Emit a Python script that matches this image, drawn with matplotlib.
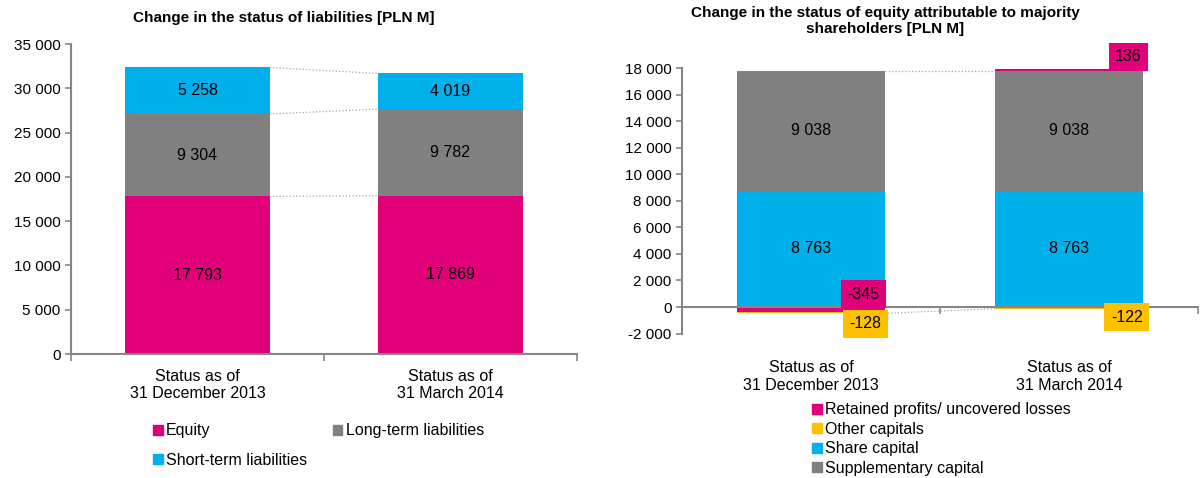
import numpy as np
import matplotlib.pyplot as plt
from matplotlib.ticker import FuncFormatter
from matplotlib.patches import Patch

plt.rcParams['font.family'] = ['Liberation Sans', 'DejaVu Sans']

# Data
categories = ["Status as of\n31 December 2013", "Status as of\n31 March 2014"]

equity = [17793, 17869]
long_term = [9304, 9782]
short_term = [5258, 4019]

share_capital = [8763, 8763]
supplementary = [9038, 9038]
retained = [-345, 136]
other_caps = [-128, -122]

MAGENTA = '#E2007A'
CYAN = '#00B0EB'
GRAY = '#808080'
YELLOW = '#FFC000'
SPINE = '#868686'

W, H = 1200, 478
fig = plt.figure(figsize=(W / 100, H / 100), dpi=100)


def px_axes(x0, x1, ytop, ybot):
    return fig.add_axes([x0 / W, 1 - ybot / H, (x1 - x0) / W, (ybot - ytop) / H])


def space_fmt(v, pos):
    return f"{int(round(v)):,}".replace(",", " ")


def fmt_num(v):
    return f"{int(round(v)):,}".replace(",", " ")


def style_axes(ax):
    for s in ['top', 'right']:
        ax.spines[s].set_visible(False)
    for s in ['left', 'bottom']:
        ax.spines[s].set_color(SPINE)
        ax.spines[s].set_linewidth(1.5)
    ax.yaxis.set_major_formatter(FuncFormatter(space_fmt))
    ax.tick_params(axis='y', colors=SPINE, labelcolor='black', labelsize=11,
                   length=4, width=1.2)
    ax.set_xlim(-0.5, 1.5)
    ax.set_xticks([-0.5, 0.5, 1.5])
    ax.set_xticklabels([])
    ax.tick_params(axis='x', colors=SPINE, length=5, width=1.2, direction='out')


x = np.arange(len(categories))
bw = 0.57

# ---------- Left chart ----------
ax1 = px_axes(71, 577, 44, 354)
style_axes(ax1)
ax1.set_ylim(0, 35000)
ax1.set_yticks(np.arange(0, 35001, 5000))

series1 = [(equity, MAGENTA, 'Equity'), (long_term, GRAY, 'Long-term liabilities'),
           (short_term, CYAN, 'Short-term liabilities')]
bottom = np.zeros(2)
tops = []
for vals, col, lab in series1:
    vals = np.array(vals, dtype=float)
    ax1.bar(x, vals, bw, bottom=bottom, color=col, label=lab)
    for xi, b, v in zip(x, bottom, vals):
        ax1.text(xi, b + v / 2, fmt_num(v), ha='center', va='center', fontsize=11.5)
    bottom = bottom + vals
    tops.append(bottom.copy())

for t in tops:
    ax1.plot([x[0] + bw / 2, x[1] - bw / 2], [t[0], t[1]], color='#A6A6A6',
             linestyle=':', linewidth=0.9)

for xi, c in zip(x, categories):
    ax1.text(xi, -1700, c, ha='center', va='top', fontsize=11.5)

fig.text(284 / W, 1 - 18 / H, "Change in the status of liabilities [PLN M]",
         fontsize=11, fontweight='bold', ha='center', va='center')

h1 = [Patch(color=MAGENTA), Patch(color=CYAN), Patch(color=GRAY)]
l1 = ['Equity', 'Short-term liabilities', 'Long-term liabilities']
fig.legend(h1, l1, loc='upper left', bbox_to_anchor=(147 / W, 1 - 417 / H), ncol=2,
           frameon=False, fontsize=11.5, handlelength=0.6, handleheight=0.6,
           handletextpad=0.2, columnspacing=1.6, labelspacing=0.9, borderaxespad=0)

# ---------- Right chart ----------
ax2 = px_axes(682, 1198, 68, 333.6)
style_axes(ax2)
ax2.spines['bottom'].set_position(('data', 0))
ax2.set_ylim(-2000, 18000)
ax2.set_yticks(np.arange(-2000, 18001, 2000))

pos_bottom = np.zeros(2)
neg_bottom = np.zeros(2)
series2 = [(share_capital, CYAN), (supplementary, GRAY), (retained, MAGENTA),
           (other_caps, YELLOW)]
for vals, col in series2:
    vals = np.array(vals, dtype=float)
    b = np.where(vals >= 0, pos_bottom, neg_bottom)
    ax2.bar(x, vals, bw, bottom=b, color=col, zorder=2)
    ends = b + vals
    for xi, bb, v, e in zip(x, b, vals, ends):
        if abs(v) > 1000:
            ax2.text(xi, bb + v / 2, fmt_num(v), ha='center', va='center', fontsize=11.5)
        else:
            if col == MAGENTA and v < 0:
                off = (-5, 13)
            elif col == MAGENTA:
                off = (-1, 12)
            elif xi == 0:
                off = (-3, -12)
            else:
                off = (0, -10)
            ax2.annotate(fmt_num(v), xy=(xi + bw / 2, e if v > 0 else bb),
                         xytext=off, textcoords='offset pixels', ha='right',
                         va='center', fontsize=11.5, zorder=5,
                         bbox=dict(boxstyle='square,pad=0.4', fc=col, ec='none'))
    pos_bottom = np.where(vals >= 0, pos_bottom + vals, pos_bottom)
    neg_bottom = np.where(vals < 0, neg_bottom + vals, neg_bottom)
    if col == GRAY:
        ax2.plot([x[0] + bw / 2, x[1] - bw / 2], [pos_bottom[0], pos_bottom[1]],
                 color='#A6A6A6', linestyle=':', linewidth=0.9)

ax2.plot([x[0] + bw / 2, x[1] - bw / 2], [neg_bottom[0], neg_bottom[1]],
         color='#A6A6A6', linestyle=':', linewidth=0.9)

for xi, c in zip(x, categories):
    ax2.text(xi, -4000, c, ha='center', va='top', fontsize=11.5)

fig.text(885 / W, 1 - 21 / H,
         "Change in the status of equity attributable to majority\nshareholders [PLN M]",
         fontsize=11, fontweight='bold', ha='center', va='center', linespacing=1.15)

h2 = [Patch(color=MAGENTA), Patch(color=YELLOW), Patch(color=CYAN), Patch(color=GRAY)]
l2 = ['Retained profits/ uncovered losses', 'Other capitals', 'Share capital',
      'Supplementary capital']
fig.legend(h2, l2, loc='upper left', bbox_to_anchor=(806 / W, 1 - 396 / H), ncol=1,
           frameon=False, fontsize=11.5, handlelength=0.6, handleheight=0.6,
           handletextpad=0.2, labelspacing=0.28, borderaxespad=0)

fig.savefig('out.png', dpi=100)
